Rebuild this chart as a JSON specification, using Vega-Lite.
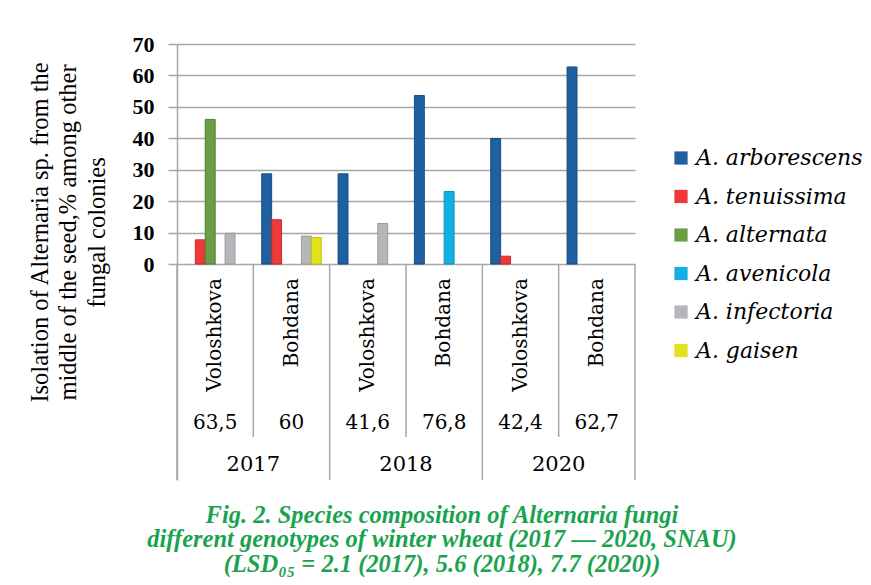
{
  "$schema": "https://vega.github.io/schema/vega-lite/v6.json",
  "width": 458,
  "height": 436,
  "autosize": {"type": "none"},
  "padding": {"left": 177, "top": 44, "right": 236, "bottom": 105},
  "background": "white",
  "config": {
    "view": {"stroke": null},
    "locale": {"number": {"decimal": ",", "thousands": " ", "grouping": [3], "currency": ["", ""]}}
  },
  "datasets": {
    "bars": [
      {"year": "2017", "genotype": "Voloshkova", "group": "2017 Voloshkova", "species": "A. tenuissima", "value": 7.7},
      {"year": "2017", "genotype": "Voloshkova", "group": "2017 Voloshkova", "species": "A. alternata", "value": 46.0},
      {"year": "2017", "genotype": "Voloshkova", "group": "2017 Voloshkova", "species": "A. infectoria", "value": 9.8},
      {"year": "2017", "genotype": "Bohdana", "group": "2017 Bohdana", "species": "A. arborescens", "value": 28.7},
      {"year": "2017", "genotype": "Bohdana", "group": "2017 Bohdana", "species": "A. tenuissima", "value": 14.1},
      {"year": "2017", "genotype": "Bohdana", "group": "2017 Bohdana", "species": "A. infectoria", "value": 8.9},
      {"year": "2017", "genotype": "Bohdana", "group": "2017 Bohdana", "species": "A. gaisen", "value": 8.4},
      {"year": "2018", "genotype": "Voloshkova", "group": "2018 Voloshkova", "species": "A. arborescens", "value": 28.7},
      {"year": "2018", "genotype": "Voloshkova", "group": "2018 Voloshkova", "species": "A. infectoria", "value": 12.9},
      {"year": "2018", "genotype": "Bohdana", "group": "2018 Bohdana", "species": "A. arborescens", "value": 53.6},
      {"year": "2018", "genotype": "Bohdana", "group": "2018 Bohdana", "species": "A. avenicola", "value": 23.1},
      {"year": "2020", "genotype": "Voloshkova", "group": "2020 Voloshkova", "species": "A. arborescens", "value": 39.9},
      {"year": "2020", "genotype": "Voloshkova", "group": "2020 Voloshkova", "species": "A. tenuissima", "value": 2.5},
      {"year": "2020", "genotype": "Bohdana", "group": "2020 Bohdana", "species": "A. arborescens", "value": 62.7}
    ],
    "groups": [
      {"year": "2017", "genotype": "Voloshkova", "group": "2017 Voloshkova", "total": 63.5},
      {"year": "2017", "genotype": "Bohdana", "group": "2017 Bohdana", "total": 60},
      {"year": "2018", "genotype": "Voloshkova", "group": "2018 Voloshkova", "total": 41.6},
      {"year": "2018", "genotype": "Bohdana", "group": "2018 Bohdana", "total": 76.8},
      {"year": "2020", "genotype": "Voloshkova", "group": "2020 Voloshkova", "total": 42.4},
      {"year": "2020", "genotype": "Bohdana", "group": "2020 Bohdana", "total": 62.7}
    ]
  },
  "title": {
    "text": [
      "Fig. 2. Species composition of Alternaria fungi",
      "different genotypes of winter wheat (2017 — 2020, SNAU)",
      "(LSD₀₅ = 2.1 (2017), 5.6 (2018), 7.7 (2020))"
    ],
    "orient": "bottom",
    "anchor": "middle",
    "font": "Liberation Serif",
    "fontSize": 24.5,
    "fontStyle": "italic",
    "fontWeight": "bold",
    "color": "#1aa34f",
    "lineHeight": 24.5,
    "offset": 23,
    "dx": 36
  },
  "resolve": {"scale": {"x": "independent"}},
  "layer": [
    {
      "layer": [
        {
          "data": {"name": "bars"},
          "mark": {"type": "bar", "strokeWidth": 1},
          "encoding": {
            "x": {
              "field": "group", "type": "nominal", "axis": null,
              "scale": {
                "domain": ["2017 Voloshkova", "2017 Bohdana", "2018 Voloshkova", "2018 Bohdana", "2020 Voloshkova", "2020 Bohdana"],
                "paddingInner": 0.22, "paddingOuter": 0.11
              }
            },
            "xOffset": {
              "field": "species", "type": "nominal",
              "scale": {
                "domain": ["A. arborescens", "A. tenuissima", "A. alternata", "A. avenicola", "A. infectoria", "A. gaisen"],
                "paddingInner": 0, "paddingOuter": 0
              }
            },
            "y": {
              "field": "value", "type": "quantitative",
              "scale": {"domain": [-68.7, 70], "nice": false},
              "axis": {
                "values": [0, 10, 20, 30, 40, 50, 60, 70],
                "title": ["Isolation of Alternaria sp. from the", "middle of the seed,% among other", "fungal colonies"],
                "titleFont": "Liberation Serif", "titleFontSize": 24.5, "titleFontWeight": "normal", "titleColor": "black",
                "titleAngle": 270, "titleX": -137, "titleY": 188, "titleAlign": "center", "titleBaseline": "middle", "titleLineHeight": 28.5,
                "labelFont": "Liberation Serif", "labelFontSize": 22, "labelFontWeight": "bold", "labelColor": "black", "labelPadding": 14,
                "tickSize": 9, "tickColor": "#a6a6a6", "tickWidth": 1.5,
                "domainColor": "#a6a6a6", "domainWidth": 1.5,
                "grid": true, "gridColor": "#a6a6a6", "gridWidth": 1.5
              }
            },
            "color": {
              "field": "species", "type": "nominal",
              "scale": {
                "domain": ["A. arborescens", "A. tenuissima", "A. alternata", "A. avenicola", "A. infectoria", "A. gaisen"],
                "range": ["#1f60a0", "#ee3a3a", "#6a9e45", "#12aee6", "#b5b6ba", "#e2e11e"]
              },
              "legend": {
                "title": null, "orient": "none", "legendX": 493, "legendY": 103,
                "symbolType": "square", "symbolSize": 175, "symbolStrokeWidth": 0,
                "labelFont": "DejaVu Serif", "labelFontStyle": "italic", "labelFontSize": 22, "labelColor": "black",
                "rowPadding": 16.5, "labelOffset": 4, "labelLimit": 300
              }
            },
            "stroke": {
              "field": "species", "type": "nominal",
              "scale": {
                "domain": ["A. arborescens", "A. tenuissima", "A. alternata", "A. avenicola", "A. infectoria", "A. gaisen"],
                "range": ["#174d82", "#c82828", "#4e7f32", "#0e93c4", "#9b9ca0", "#c2c010"]
              },
              "legend": null
            }
          }
        },
        {
          "data": {"name": "groups"},
          "mark": {"type": "text", "angle": 270, "align": "right", "baseline": "middle", "font": "DejaVu Serif", "fontSize": 20, "color": "black"},
          "encoding": {
            "x": {
              "field": "group", "type": "nominal", "axis": null,
              "scale": {
                "domain": ["2017 Voloshkova", "2017 Bohdana", "2018 Voloshkova", "2018 Bohdana", "2020 Voloshkova", "2020 Bohdana"],
                "paddingInner": 0.22, "paddingOuter": 0.11
              }
            },
            "y": {"datum": -4.5, "type": "quantitative"},
            "text": {"field": "genotype", "type": "nominal"}
          }
        },
        {
          "data": {"name": "groups"},
          "mark": {"type": "text", "align": "center", "baseline": "middle", "font": "DejaVu Serif", "fontSize": 20, "color": "black"},
          "encoding": {
            "x": {
              "field": "group", "type": "nominal", "axis": null,
              "scale": {
                "domain": ["2017 Voloshkova", "2017 Bohdana", "2018 Voloshkova", "2018 Bohdana", "2020 Voloshkova", "2020 Bohdana"],
                "paddingInner": 0.22, "paddingOuter": 0.11
              }
            },
            "y": {"datum": -50.6, "type": "quantitative"},
            "text": {"field": "total", "type": "quantitative", "format": ""}
          }
        }
      ]
    },
    {
      "layer": [
        {
          "data": {"name": "groups"},
          "transform": [{"filter": "datum.genotype === 'Voloshkova'"}],
          "mark": {"type": "rule", "color": "#a6a6a6", "strokeWidth": 1.5},
          "encoding": {
            "x": {
              "field": "group", "type": "nominal", "axis": null, "bandPosition": 0,
              "scale": {
                "domain": ["2017 Voloshkova", "2017 Bohdana", "2018 Voloshkova", "2018 Bohdana", "2020 Voloshkova", "2020 Bohdana"],
                "paddingInner": 0, "paddingOuter": 0
              }
            },
            "y": {"datum": 0, "type": "quantitative"},
            "y2": {"datum": -68.7}
          }
        },
        {
          "data": {"name": "groups"},
          "transform": [{"filter": "datum.genotype === 'Bohdana'"}],
          "mark": {"type": "rule", "color": "#a6a6a6", "strokeWidth": 1.5},
          "encoding": {
            "x": {
              "field": "group", "type": "nominal", "axis": null, "bandPosition": 0,
              "scale": {
                "domain": ["2017 Voloshkova", "2017 Bohdana", "2018 Voloshkova", "2018 Bohdana", "2020 Voloshkova", "2020 Bohdana"],
                "paddingInner": 0, "paddingOuter": 0
              }
            },
            "y": {"datum": 0, "type": "quantitative"},
            "y2": {"datum": -55}
          }
        },
        {
          "data": {"name": "groups"},
          "transform": [{"filter": "datum.group === '2020 Bohdana'"}],
          "mark": {"type": "rule", "color": "#a6a6a6", "strokeWidth": 1.5},
          "encoding": {
            "x": {
              "field": "group", "type": "nominal", "axis": null, "bandPosition": 1,
              "scale": {
                "domain": ["2017 Voloshkova", "2017 Bohdana", "2018 Voloshkova", "2018 Bohdana", "2020 Voloshkova", "2020 Bohdana"],
                "paddingInner": 0, "paddingOuter": 0
              }
            },
            "y": {"datum": 0, "type": "quantitative"},
            "y2": {"datum": -68.7}
          }
        }
      ]
    },
    {
      "data": {"name": "groups"},
      "transform": [{"filter": "datum.genotype === 'Voloshkova'"}],
      "mark": {"type": "text", "align": "center", "baseline": "middle", "font": "DejaVu Serif", "fontSize": 21, "color": "black"},
      "encoding": {
        "x": {
          "field": "year", "type": "nominal", "axis": null,
          "scale": {"domain": ["2017", "2018", "2020"], "paddingInner": 0, "paddingOuter": 0}
        },
        "y": {"datum": -64, "type": "quantitative"},
        "text": {"field": "year", "type": "nominal"}
      }
    }
  ]
}
